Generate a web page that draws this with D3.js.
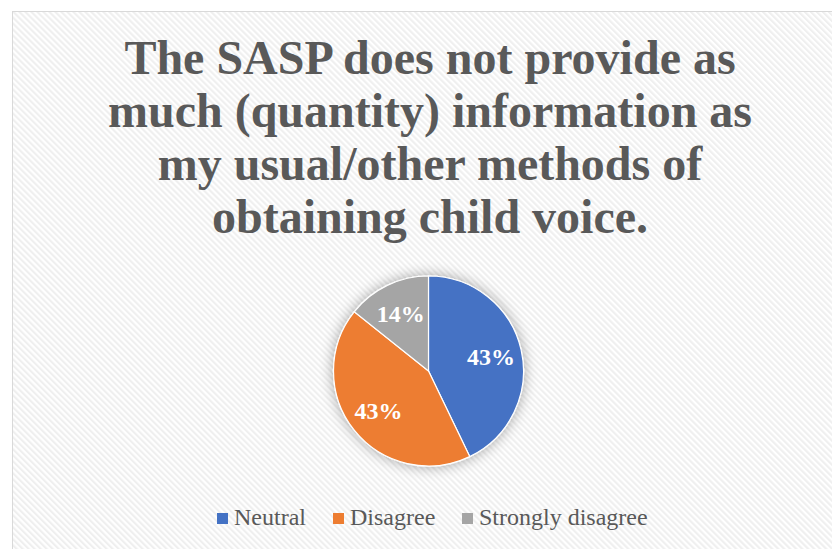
<!DOCTYPE html>
<html>
<head>
<meta charset="utf-8">
<script src="https://cdn.jsdelivr.net/npm/d3@7"></script>
<style>
  html, body { margin: 0; padding: 0; background: #ffffff; }
  svg { display: block; }
</style>
</head>
<body>
<script>
const categories = ["Neutral", "Disagree", "Strongly disagree"];
const values = [3, 3, 1];
const labels = ["43%", "43%", "14%"];
const colors = ["#4472C4", "#ED7D31", "#A5A5A5"];
const titleLines = [
  "The SASP does not provide as",
  "much (quantity) information as",
  "my usual/other methods of",
  "obtaining child voice."
];

const W = 832, H = 549;
const svg = d3.select("body").append("svg").attr("width", W).attr("height", H);
const defs = svg.append("defs");

const pat = defs.append("pattern")
  .attr("id", "stripes")
  .attr("patternUnits", "userSpaceOnUse")
  .attr("width", 4.24).attr("height", 4.24)
  .attr("patternTransform", "rotate(-45)");
pat.append("rect").attr("width", 4.24).attr("height", 4.24).attr("fill", "#ffffff");
pat.append("rect").attr("width", 2.1).attr("height", 4.24).attr("fill", "#efefef");

const shadow = defs.append("filter").attr("id", "glow")
  .attr("x", "-30%").attr("y", "-30%").attr("width", "160%").attr("height", "160%");
shadow.append("feGaussianBlur").attr("in", "SourceAlpha").attr("stdDeviation", 7).attr("result", "b");
shadow.append("feComponentTransfer").attr("in", "b").attr("result", "c")
  .append("feFuncA").attr("type", "linear").attr("slope", 0.35);
const merge = shadow.append("feMerge");
merge.append("feMergeNode").attr("in", "c");
merge.append("feMergeNode").attr("in", "SourceGraphic");

// chart area background + border
svg.append("rect")
  .attr("x", 12.5).attr("y", 11.5)
  .attr("width", W).attr("height", H)
  .attr("fill", "url(#stripes)")
  .attr("stroke", "#d9d9d9").attr("stroke-width", 1);

// title
const title = svg.append("text")
  .attr("text-anchor", "middle")
  .attr("font-family", "'Liberation Serif', 'Times New Roman', serif")
  .attr("font-weight", "bold")
  .attr("font-size", 48)
  .attr("fill", "#595959");
titleLines.forEach((t, i) => {
  title.append("tspan").attr("x", 430).attr("y", 74 + i * 53).text(t);
});

// pie
const cx = 428.5, cy = 371, R = 95;
const pie = d3.pie().sort(null).value(d => d)(values);
const arc = d3.arc().innerRadius(0).outerRadius(R);
const labelArc = d3.arc().innerRadius(64).outerRadius(64);

const g = svg.append("g").attr("transform", `translate(${cx},${cy})`);
const slices = g.append("g").attr("filter", "url(#glow)");
slices.selectAll("path").data(pie).join("path")
  .attr("d", arc)
  .attr("fill", (d, i) => colors[i])
  .attr("stroke", "#ffffff")
  .attr("stroke-width", 1.2);

g.selectAll("text.lbl").data(pie).join("text")
  .attr("class", "lbl")
  .attr("transform", d => `translate(${labelArc.centroid(d)})`)
  .attr("text-anchor", "middle")
  .attr("dy", "0.35em")
  .attr("font-family", "'Liberation Serif', 'Times New Roman', serif")
  .attr("font-weight", "bold")
  .attr("font-size", 24)
  .attr("fill", "#ffffff")
  .text((d, i) => labels[i]);

// legend
const legendX = [217, 333, 462];
const leg = svg.append("g");
categories.forEach((c, i) => {
  const lg = leg.append("g").attr("transform", `translate(${legendX[i]},0)`);
  lg.append("rect").attr("x", 0).attr("y", 513).attr("width", 11).attr("height", 11).attr("fill", colors[i]);
  lg.append("text").attr("x", 17).attr("y", 525)
    .attr("font-family", "'Liberation Serif', 'Times New Roman', serif")
    .attr("font-size", 24)
    .attr("fill", "#595959")
    .text(c);
});
</script>
</body>
</html>
